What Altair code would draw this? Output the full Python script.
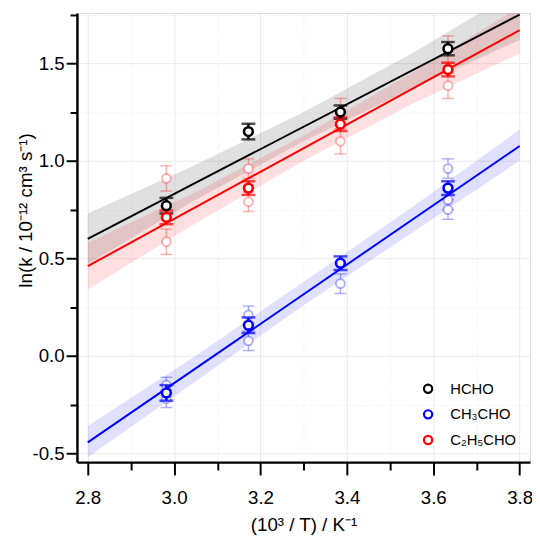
import altair as alt
import pandas as pd

# ---------------- data ----------------
x_temp = [2.982, 3.172, 3.385, 3.634]

series = ["HCHO", "CH₃CHO", "C₂H₅CHO"]
series_colors = ["#000000", "#0000ff", "#ff0000"]

# averaged values (bold markers)
hcho_lnk = [0.77, 1.15, 1.25, 1.575]
hcho_err = [0.04, 0.04, 0.034, 0.034]
ch3cho_lnk = [-0.19, 0.157, 0.475, 0.86]
ch3cho_err = [0.04, 0.04, 0.035, 0.035]
c2h5cho_lnk = [0.71, 0.86, 1.188, 1.468]
c2h5cho_err = [0.035, 0.035, 0.035, 0.035]

# individual measurements (faint markers)
ch3cho_rep_x = [2.982, 2.982, 3.172, 3.172, 3.385, 3.634, 3.634, 3.634]
ch3cho_rep_y = [-0.15, -0.22, 0.21, 0.077, 0.37, 0.96, 0.80, 0.75]
ch3cho_rep_err = [0.04, 0.045, 0.045, 0.05, 0.05, 0.05, 0.05, 0.05]
c2h5cho_rep_x = [2.982, 2.982, 3.172, 3.172, 3.385, 3.385, 3.634, 3.634]
c2h5cho_rep_y = [0.91, 0.585, 0.96, 0.79, 1.10, 1.25, 1.385, 1.57]
c2h5cho_rep_err = [0.065, 0.065, 0.05, 0.05, 0.065, 0.07, 0.065, 0.07]

# Arrhenius fits
fit_x = [2.8, 3.8]
hcho_fit = [0.60, 1.75]
ch3cho_fit = [-0.444, 1.076]
c2h5cho_fit = [0.46, 1.67]

# confidence bands
band_x = [2.8, 3.05, 3.3, 3.55, 3.8]
hcho_lo = [0.47, 0.80, 1.10, 1.37, 1.62]
hcho_hi = [0.73, 0.98, 1.25, 1.55, 1.88]
ch3cho_lo = [-0.52, -0.13, 0.26, 0.63, 1.00]
ch3cho_hi = [-0.36, 0.00, 0.38, 0.76, 1.16]
c2h5cho_lo = [0.34, 0.68, 1.00, 1.29, 1.55]
c2h5cho_hi = [0.58, 0.84, 1.13, 1.45, 1.79]

x_major_ticks = [2.8, 3.0, 3.2, 3.4, 3.6, 3.8]
x_minor_ticks = [2.9, 3.1, 3.3, 3.5, 3.7]
y_major_ticks = [-0.5, 0.0, 0.5, 1.0, 1.5]
y_minor_ticks = [-0.25, 0.25, 0.75, 1.25, 1.75]

# ---------------- tables ----------------
main_rows = []
for name, ys_, es in [(series[0], hcho_lnk, hcho_err),
                      (series[1], ch3cho_lnk, ch3cho_err),
                      (series[2], c2h5cho_lnk, c2h5cho_err)]:
    for xv, yv, ev in zip(x_temp, ys_, es):
        main_rows.append({"series": name, "x": xv, "y": yv, "lo": yv - ev, "hi": yv + ev})
main_df = pd.DataFrame(main_rows)

rep_rows = []
for name, xs_, ys_, es in [(series[1], ch3cho_rep_x, ch3cho_rep_y, ch3cho_rep_err),
                           (series[2], c2h5cho_rep_x, c2h5cho_rep_y, c2h5cho_rep_err)]:
    for xv, yv, ev in zip(xs_, ys_, es):
        rep_rows.append({"series": name, "x": xv, "y": yv, "lo": yv - ev, "hi": yv + ev})
rep_df = pd.DataFrame(rep_rows)

fit_rows = []
for name, ys_ in [(series[0], hcho_fit), (series[1], ch3cho_fit), (series[2], c2h5cho_fit)]:
    for xv, yv in zip(fit_x, ys_):
        fit_rows.append({"series": name, "x": xv, "y": yv})
fit_df = pd.DataFrame(fit_rows)

band_rows = []
for name, los, his in [(series[0], hcho_lo, hcho_hi), (series[2], c2h5cho_lo, c2h5cho_hi),
                       (series[1], ch3cho_lo, ch3cho_hi)]:
    for xv, lo, hi in zip(band_x, los, his):
        band_rows.append({"series": name, "x": xv, "lo": lo, "hi": hi})
band_df = pd.DataFrame(band_rows)

# ---------------- scales / axes ----------------
FONT = "Liberation Sans"
# colour scale for the unlabelled layers (listed in reverse so it is not merged with the legend scale)
cscale = alt.Scale(domain=series[::-1], range=series_colors[::-1])
# stroke scale that carries the legend
sscale = alt.Scale(domain=series, range=series_colors)
GRID = "#eaeaea"

x_axis_major = alt.Axis(
    orient="bottom", title="(10³ / T) / K⁻¹", values=x_major_ticks, format=".1f",
    tickSize=13, tickWidth=2, tickColor="black",
    domain=True, domainColor="black", domainWidth=2.5,
    grid=True, gridColor=GRID, gridWidth=1,
    labelFontSize=19, labelFont=FONT, labelColor="black", labelPadding=14,
    labelOverlap=False, labelFlush=False,
    titleFontSize=19, titleFont=FONT, titleFontWeight="normal", titleColor="black",
    titleY=69, titleBaseline="alphabetic",
)
x_axis_minor = alt.Axis(
    orient="bottom", title=None, values=x_minor_ticks, labels=False,
    tickSize=8, tickWidth=2, tickColor="black", domain=False,
    grid=True, gridColor=GRID, gridWidth=1, gridDash=[1, 2],
)
y_axis_major = alt.Axis(
    orient="left", title="ln(k / 10⁻¹² cm³ s⁻¹)", values=y_major_ticks,
    labelExpr="datum.value < 0 ? '-' + format(-datum.value, '.1f') : format(datum.value, '.1f')",
    tickSize=11, tickWidth=2, tickColor="black",
    domain=True, domainColor="black", domainWidth=2.5,
    grid=True, gridColor=GRID, gridWidth=1,
    labelFontSize=19, labelFont=FONT, labelColor="black", labelPadding=2,
    labelOverlap=False, labelFlush=False,
    titleFontSize=19, titleFont=FONT, titleFontWeight="normal", titleColor="black",
    titleX=-42, titleY=200, titleBaseline="bottom", titleAngle=270,
)
y_axis_minor = alt.Axis(
    orient="left", title=None, values=y_minor_ticks, labels=False,
    tickSize=7, tickWidth=2, tickColor="black", domain=False,
    grid=True, gridColor=GRID, gridWidth=1, gridDash=[1, 2],
)

xs = alt.Scale(domain=[2.775, 3.824], nice=False, zero=False)
ys = alt.Scale(domain=[-0.545, 1.758], nice=False, zero=False)

Xn = alt.X("x:Q", scale=xs, axis=None)


def Yn(field):
    return alt.Y(field, scale=ys, axis=None)


col_nolegend = alt.Color("series:N", scale=cscale, legend=None)

bands = alt.Chart(band_df).mark_area(opacity=0.12, clip=True).encode(
    x=alt.X("x:Q", scale=xs, axis=x_axis_major),
    y=alt.Y("lo:Q", scale=ys, axis=y_axis_major), y2="hi:Q",
    color=col_nolegend,
)

rep_bars = alt.Chart(rep_df).mark_rule(strokeWidth=1.5, opacity=0.3).encode(
    x=Xn, y=Yn("lo:Q"), y2="hi:Q", color=col_nolegend,
)
rep_cap_lo = alt.Chart(rep_df).mark_tick(orient="horizontal", size=12, thickness=1.5, opacity=0.3).encode(
    x=Xn, y=Yn("lo:Q"), color=col_nolegend,
)
rep_cap_hi = alt.Chart(rep_df).mark_tick(orient="horizontal", size=12, thickness=1.5, opacity=0.3).encode(
    x=Xn, y=Yn("hi:Q"), color=col_nolegend,
)
rep_pts = alt.Chart(rep_df).mark_point(shape="circle", size=80, strokeWidth=2, filled=False,
                                       fill="white", fillOpacity=1, strokeOpacity=0.3).encode(
    x=Xn, y=Yn("y:Q"), color=col_nolegend,
)

fits = alt.Chart(fit_df).mark_line(strokeWidth=2, clip=True).encode(
    x=alt.X("x:Q", scale=xs, axis=x_axis_minor),
    y=alt.Y("y:Q", scale=ys, axis=y_axis_minor),
    color=col_nolegend,
)

main_bars = alt.Chart(main_df).mark_rule(strokeWidth=2.5).encode(
    x=Xn, y=Yn("lo:Q"), y2="hi:Q", color=col_nolegend,
)
main_cap_lo = alt.Chart(main_df).mark_tick(orient="horizontal", size=14, thickness=2.5).encode(
    x=Xn, y=Yn("lo:Q"), color=col_nolegend,
)
main_cap_hi = alt.Chart(main_df).mark_tick(orient="horizontal", size=14, thickness=2.5).encode(
    x=Xn, y=Yn("hi:Q"), color=col_nolegend,
)
main_pts = alt.Chart(main_df).mark_point(shape="circle", size=80, strokeWidth=2.6, filled=False,
                                         fill="white", fillOpacity=1, opacity=1).encode(
    x=Xn, y=Yn("y:Q"),
    stroke=alt.Stroke(
        "series:N", scale=sscale,
        legend=alt.Legend(
            orient="none", legendX=349, legendY=374, title=None,
            symbolType="circle", symbolSize=70, symbolStrokeWidth=2.2,
            symbolFillColor="white", labelFontSize=15, labelFont=FONT,
            labelColor="black", rowPadding=7, padding=0, labelOffset=15,
        ),
    ),
)

chart = alt.layer(
    bands, rep_bars, rep_cap_lo, rep_cap_hi, rep_pts, fits,
    main_bars, main_cap_lo, main_cap_hi, main_pts,
).resolve_axis(
    x="independent", y="independent",
).properties(
    width=460, height=456,
    autosize=alt.AutoSizeParams(type="none"),
    padding={"left": 70, "top": 1, "right": 2, "bottom": 75},
).configure_view(
    stroke="black", strokeWidth=2.5,
).configure(background="white")

chart.save("out.html", embed_options={"renderer": "svg", "actions": False})
